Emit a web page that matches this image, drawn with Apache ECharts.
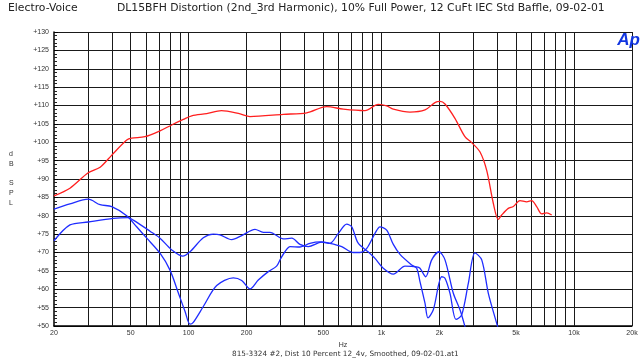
<!DOCTYPE html>
<html>
<head>
<meta charset="utf-8">
<script src="https://cdn.jsdelivr.net/npm/echarts@6/dist/echarts.min.js"></script>
<style>
  html, body { margin: 0; padding: 0; background: #fff; }
  #chart { width: 643px; height: 360px; }
</style>
</head>
<body>
<div id="chart"></div>
<script>
// Fundamental response (red) and two distortion products (blue), [Hz, dB SPL]
const fundamental = [
  [20, 85.4], [24.2, 87.5], [30.1, 91.7], [34.7, 93.2], [39.9, 96.5], [47.7, 100.6],
  [50.6, 101.1], [59.3, 101.5], [71, 103.1], [81.6, 104.7], [93.8, 106.2], [103.7, 107.2],
  [124, 107.8], [148, 108.6], [185, 107.7], [208, 107.0], [310, 107.6], [410, 108.0],
  [520, 109.7], [635, 109.0], [822, 108.6], [964, 110.3], [1066, 109.9], [1154, 109.0],
  [1408, 108.2], [1686, 108.8], [1898, 110.8], [2016, 111.1], [2140, 110.4], [2410, 106.5],
  [2716, 101.5], [2943, 99.9], [3248, 97.4], [3520, 92.4], [3812, 83.4], [4046, 79.0],
  [4214, 80.2], [4560, 82.0], [4840, 82.5], [5244, 84.1], [5680, 83.8], [6026, 84.1],
  [6400, 82.5], [6800, 80.5], [7212, 80.8], [7660, 80.2]
];

const harmonicA = [
  [20, 81.8], [24.2, 83.2], [30.1, 84.5], [34.7, 83.0], [39.9, 82.5], [47.7, 80.0],
  [53.7, 77.0], [60.6, 73.9], [71, 69.8], [80, 65.2], [88.4, 59.0], [95.7, 54.0],
  [101.6, 50.5], [105.7, 51.0], [119.1, 55.3], [139.8, 61.0], [170.4, 63.1], [188.5, 62.4],
  [208.2, 60.1], [229.8, 62.5], [259, 64.8], [286, 66.3], [300, 68.3], [316, 70.2],
  [336, 71.6], [378, 71.5], [426, 72.5], [481, 72.9], [541, 72.5], [623, 71.6],
  [715, 70.0], [775, 70.0], [840, 71.1], [927, 75.2], [984, 77.0], [1066, 76.1],
  [1154, 72.2], [1250, 69.5], [1438, 66.6], [1526, 65.7], [1587, 62.1], [1685, 56.2],
  [1746, 52.2], [1861, 54.4], [2058, 63.4], [2140, 63.0], [2272, 58.9], [2440, 51.8],
  [2612, 53.0], [2828, 61.6], [3062, 69.9], [3320, 68.0], [3592, 58.9], [3970, 50.7],
  [4100, 48.0]
];

const harmonicB = [
  [20, 73.2], [24.2, 77.5], [30.1, 78.3], [40.6, 79.3], [48.6, 79.5], [51.6, 78.8],
  [63, 75.8], [71, 73.9], [81.7, 70.7], [93.1, 69.0], [101.6, 70.2], [119.1, 74.0],
  [134.2, 75.0], [145.4, 74.8], [167.2, 73.5], [188.5, 74.6], [221, 76.3], [244, 75.5],
  [264, 75.5], [310, 73.7], [343, 73.9], [378, 72.2], [418, 71.6], [490, 72.8],
  [541, 72.5], [598, 75.2], [661, 77.7], [702, 77.0], [757, 72.6], [853, 70.2],
  [927, 68.4], [1020, 65.8], [1154, 64.1], [1327, 66.3], [1526, 66.1], [1587, 65.7],
  [1699, 63.4], [1826, 68.0], [1992, 70.2], [2140, 68.0], [2364, 58.9], [2560, 54.4],
  [2718, 49.8], [2800, 47.0]
];

// Axis ticks
const freqLabelValues = [20, 50, 100, 200, 500, 1000, 2000, 5000, 10000, 20000];
const freqGridValues = [
  30, 40, 50, 60, 70, 80, 90, 100,
  200, 300, 400, 500, 600, 700, 800, 900, 1000,
  2000, 3000, 4000, 5000, 6000, 7000, 8000, 9000, 10000, 20000
];
const dbMin = 50, dbMax = 130, dbStep = 5;

const FONT = '"Liberation Sans", Arial, sans-serif';
const WIDE_FONT = '"DejaVu Sans", "Liberation Sans", sans-serif';
const GRID_COLOR = '#1a1a1a';

const fmtHz = v => (v >= 1000 ? (v / 1000) + 'k' : String(v));

const chart = echarts.init(document.getElementById('chart'), null, { renderer: 'canvas' });

chart.setOption({
  animation: false,
  backgroundColor: '#fff',
  textStyle: { fontFamily: FONT },
  grid: { left: 54, right: 11, top: 32, bottom: 34, containLabel: false },
  xAxis: {
    type: 'log',
    logBase: 10,
    min: 20,
    max: 20000,
    axisLine: { show: true, onZero: false, lineStyle: { color: '#000', width: 1.5 } },
    axisTick: { show: false },
    splitLine: { show: false },
    minorSplitLine: { show: false },
    axisLabel: {
      customValues: freqLabelValues,
      formatter: v => fmtHz(v),
      fontSize: 7,
      color: '#333',
      margin: 4,
      fontFamily: FONT,
      showMinLabel: true,
      showMaxLabel: true,
      hideOverlap: false
    },
    name: 'Hz',
    nameLocation: 'middle',
    nameGap: 15,
    nameTextStyle: { fontSize: 7, color: '#333', fontFamily: FONT }
  },
  yAxis: {
    type: 'value',
    min: dbMin,
    max: dbMax,
    interval: dbStep,
    axisLine: { show: true, lineStyle: { color: '#000', width: 1.5 } },
    axisTick: { show: true, inside: true, length: 4, lineStyle: { color: '#000' } },
    minorTick: { show: true, splitNumber: 5, length: 3, lineStyle: { color: '#222' } },
    splitLine: { show: true, lineStyle: { color: GRID_COLOR, width: 1 } },
    axisLabel: {
      formatter: v => '+' + v,
      fontSize: 7,
      color: '#333',
      margin: 5,
      fontFamily: FONT
    }
  },
  graphic: [
    { type: 'text', left: 8, top: 3, style: { text: 'Electro-Voice', fontSize: 10.8, fontFamily: WIDE_FONT, fill: '#222' } },
    { type: 'text', left: 117, top: 3, style: { text: 'DL15BFH Distortion (2nd_3rd Harmonic), 10% Full Power, 12 CuFt IEC Std Baffle, 09-02-01', fontSize: 10.8, fontFamily: WIDE_FONT, fill: '#222' } },
    { type: 'text', left: 9, top: 149, style: { text: 'd\nB\n\nS\nP\nL', fontSize: 7, lineHeight: 9.8, fontFamily: FONT, fill: '#333', align: 'center' } },
    { type: 'text', left: 232, top: 351, style: { text: '815-3324 #2, Dist 10 Percent 12_4v, Smoothed, 09-02-01.at1', fontSize: 7.3, fontFamily: WIDE_FONT, fill: '#333' } },
    { type: 'text', right: 3, top: 32, z: 10, style: { text: 'Ap', fontSize: 17, fontStyle: 'italic', fontWeight: 'bold', fontFamily: FONT, fill: '#1236e0' } }
  ],
  series: [
    {
      name: 'Fundamental',
      type: 'line',
      data: fundamental,
      smooth: 0.3,
      showSymbol: false,
      clip: true,
      z: 3,
      lineStyle: { color: '#ff1f1f', width: 1.3 },
      markLine: {
        silent: true,
        symbol: ['none', 'none'],
        label: { show: false },
        z: 1,
        lineStyle: { type: 'solid', color: GRID_COLOR, width: 1 },
        data: freqGridValues.map(v => ({ xAxis: v }))
      }
    },
    {
      name: '2nd Harmonic',
      type: 'line',
      data: harmonicA,
      smooth: 0.3,
      showSymbol: false,
      clip: true,
      z: 3,
      lineStyle: { color: '#1f2cff', width: 1.3 }
    },
    {
      name: '3rd Harmonic',
      type: 'line',
      data: harmonicB,
      smooth: 0.3,
      showSymbol: false,
      clip: true,
      z: 3,
      lineStyle: { color: '#1f2cff', width: 1.3 }
    }
  ]
});
</script>
</body>
</html>
